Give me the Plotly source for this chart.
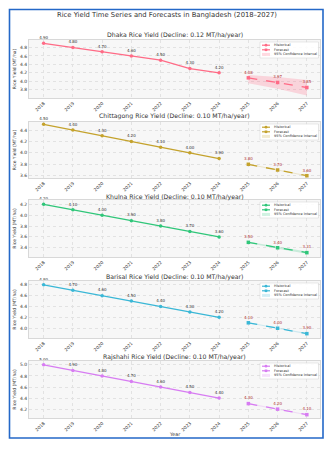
import plotly.graph_objects as go

hist_years = [2018, 2019, 2020, 2021, 2022, 2023, 2024]
fc_years = [2025, 2026, 2027]
tick_years = [2018, 2019, 2020, 2021, 2022, 2023, 2024, 2025, 2026, 2027]

regions = ["Dhaka", "Chittagong", "Khulna", "Barisal", "Rajshahi"]
declines = [0.12, 0.10, 0.10, 0.10, 0.10]
legend_labels = ["Historical", "Forecast", "95% Confidence Interval"]

dhaka_hist = [4.90, 4.80, 4.70, 4.60, 4.50, 4.30, 4.20]
dhaka_fc = [4.08, 3.97, 3.85]
dhaka_lo = [3.95, 3.82, 3.66]
dhaka_hi = [4.15, 4.10, 4.03]

chitt_hist = [4.50, 4.40, 4.30, 4.20, 4.10, 4.00, 3.90]
chitt_fc = [3.80, 3.70, 3.60]
chitt_lo = [3.79, 3.69, 3.59]
chitt_hi = [3.81, 3.71, 3.61]

khulna_hist = [4.20, 4.10, 4.00, 3.90, 3.80, 3.70, 3.60]
khulna_fc = [3.50, 3.40, 3.31]
khulna_lo = [3.49, 3.38, 3.29]
khulna_hi = [3.51, 3.42, 3.33]

barisal_hist = [4.80, 4.70, 4.60, 4.50, 4.40, 4.30, 4.20]
barisal_fc = [4.10, 4.00, 3.90]
barisal_lo = [4.09, 3.99, 3.89]
barisal_hi = [4.11, 4.01, 3.91]

rajshahi_hist = [5.00, 4.90, 4.80, 4.70, 4.60, 4.50, 4.40]
rajshahi_fc = [4.30, 4.20, 4.10]
rajshahi_lo = [4.29, 4.19, 4.09]
rajshahi_hi = [4.31, 4.21, 4.11]

hists = [dhaka_hist, chitt_hist, khulna_hist, barisal_hist, rajshahi_hist]
fcs = [dhaka_fc, chitt_fc, khulna_fc, barisal_fc, rajshahi_fc]
los = [dhaka_lo, chitt_lo, khulna_lo, barisal_lo, rajshahi_lo]
his = [dhaka_hi, chitt_hi, khulna_hi, barisal_hi, rajshahi_hi]

colors = ["#FF6B86", "#C4A22C", "#2FC679", "#3AB7D6", "#D77CF2"]
fills = ["rgba(255,107,134,0.25)", "rgba(196,162,44,0.22)", "rgba(47,198,121,0.22)",
         "rgba(58,183,214,0.22)", "rgba(215,124,242,0.22)"]
yranges = [[3.6, 4.98], [3.56, 4.54], [3.23, 4.28], [3.82, 4.87], [4.04, 5.07]]
ytickvals = [[3.8, 4.0, 4.2, 4.4, 4.6, 4.8], [3.6, 3.8, 4.0, 4.2, 4.4],
             [3.4, 3.6, 3.8, 4.0, 4.2], [4.0, 4.2, 4.4, 4.6, 4.8],
             [4.2, 4.4, 4.6, 4.8, 5.0]]

W, H = 332, 451
boxes = [(40, 98), (122, 178), (200, 257), (281, 338), (361, 418)]
title_y = [35, 116, 197, 277, 357]
x0px, x1px = 29, 320

FONT = "DejaVu Sans"
TXT = "#333333"


def px(x):
    return x / W


def py(y):
    return 1 - y / H


fig = go.Figure()

for i in range(5):
    n = i + 1
    xa = "x" if n == 1 else f"x{n}"
    ya = "y" if n == 1 else f"y{n}"
    c = colors[i]
    fig.add_trace(go.Scatter(
        x=fc_years, y=los[i], mode="lines", line=dict(width=0, color=c),
        showlegend=False, hoverinfo="skip", xaxis=xa, yaxis=ya))
    fig.add_trace(go.Scatter(
        x=fc_years, y=his[i], mode="lines", line=dict(width=0, color=c),
        fill="tonexty", fillcolor=fills[i], name="95% Confidence Interval",
        xaxis=xa, yaxis=ya))
    fig.add_trace(go.Scatter(
        x=hist_years, y=hists[i], mode="lines+markers+text", name="Historical",
        line=dict(color=c, width=1.3), marker=dict(color=c, size=3.5, symbol="circle"),
        text=[f"{v:.2f}" for v in hists[i]], textposition="top center",
        textfont=dict(size=4, color=TXT, family=FONT), cliponaxis=False,
        xaxis=xa, yaxis=ya))
    fig.add_trace(go.Scatter(
        x=fc_years, y=fcs[i], mode="lines+markers+text", name="Forecast",
        line=dict(color=c, width=1.3, dash="dash"), marker=dict(color=c, size=3.5, symbol="square"),
        text=[f"{v:.2f}" for v in fcs[i]], textposition="top center",
        textfont=dict(size=4, color="#B03030", family=FONT), cliponaxis=False,
        xaxis=xa, yaxis=ya))

    top, bot = boxes[i]
    dom = [py(bot), py(top)]
    axis_common = dict(showline=True, linecolor="#d8d8d8", linewidth=0.8, mirror=True,
                       showgrid=True, gridcolor="#e2e2e2", griddash="dot", gridwidth=0.6,
                       zeroline=False, ticks="", tickfont=dict(size=4.5, color=TXT, family=FONT))
    fig.update_layout(**{
        ("xaxis" if n == 1 else f"xaxis{n}"): dict(
            domain=[px(x0px), px(x1px)], anchor=ya, range=[2017.5, 2027.45],
            tickmode="array", tickvals=tick_years, ticktext=[str(t) for t in tick_years],
            tickangle=-45, **axis_common),
        ("yaxis" if n == 1 else f"yaxis{n}"): dict(
            domain=dom, anchor=xa, range=yranges[i], tickvals=ytickvals[i],
            ticktext=[f"{v:.1f}" for v in ytickvals[i]],
            title=dict(text="Rice Yield (MT/ha)", font=dict(size=4.5, color=TXT, family=FONT), standoff=3),
            **axis_common),
    })
    fig.add_annotation(text=f"{regions[i]} Rice Yield (Decline: {declines[i]:.2f} MT/ha/year)",
                       x=px(174.5), y=py(title_y[i]), xref="paper", yref="paper",
                       showarrow=False, xanchor="center", yanchor="middle",
                       font=dict(size=6.2, color=TXT, family=FONT))

    # custom legend box (top-right of each panel)
    lt = top + 2
    fig.add_shape(type="rect", xref="paper", yref="paper",
                  x0=px(260), x1=px(318.5), y0=py(lt + 16), y1=py(lt),
                  line=dict(color="#d0d0d0", width=0.5), fillcolor="rgba(255,255,255,0.9)")
    rows = [lt + 3.2, lt + 7.8, lt + 12.4]
    fig.add_shape(type="line", xref="paper", yref="paper", x0=px(262), x1=px(270),
                  y0=py(rows[0]), y1=py(rows[0]), line=dict(color=c, width=1.2))
    fig.add_shape(type="circle", xref="paper", yref="paper", x0=px(264.6), x1=px(267.4),
                  y0=py(rows[0] + 1.4), y1=py(rows[0] - 1.4), line=dict(width=0), fillcolor=c)
    fig.add_shape(type="line", xref="paper", yref="paper", x0=px(262), x1=px(270),
                  y0=py(rows[1]), y1=py(rows[1]), line=dict(color=c, width=1.2, dash="dash"))
    fig.add_shape(type="rect", xref="paper", yref="paper", x0=px(264.7), x1=px(267.3),
                  y0=py(rows[1] + 1.3), y1=py(rows[1] - 1.3), line=dict(width=0), fillcolor=c)
    fig.add_shape(type="rect", xref="paper", yref="paper", x0=px(262), x1=px(270),
                  y0=py(rows[2] + 1.5), y1=py(rows[2] - 1.5), line=dict(width=0), fillcolor=fills[i])
    for r, lab in zip(rows, legend_labels):
        fig.add_annotation(text=lab, x=px(271.5), y=py(r), xref="paper", yref="paper",
                           showarrow=False, xanchor="left", yanchor="middle",
                           font=dict(size=3.5, color=TXT, family=FONT))

fig.add_annotation(text="Rice Yield Time Series and Forecasts in Bangladesh (2018–2027)",
                   x=px(167), y=py(15), xref="paper", yref="paper", showarrow=False,
                   xanchor="center", yanchor="middle", font=dict(size=6.8, color=TXT, family=FONT))
fig.add_annotation(text="Year", x=px(174), y=py(434), xref="paper", yref="paper",
                   showarrow=False, xanchor="center", yanchor="middle",
                   font=dict(size=4.8, color=TXT, family=FONT))

fig.add_shape(type="rect", xref="paper", yref="paper", x0=px(9.5), x1=px(323),
              y0=py(438), y1=py(9.5), line=dict(color="#2468C8", width=1.6),
              fillcolor="rgba(0,0,0,0)", layer="above")

fig.update_layout(width=W, height=H, margin=dict(l=0, r=0, t=0, b=0),
                  paper_bgcolor="white", plot_bgcolor="#f7f7f7", showlegend=False)

fig.write_html("out.html")
